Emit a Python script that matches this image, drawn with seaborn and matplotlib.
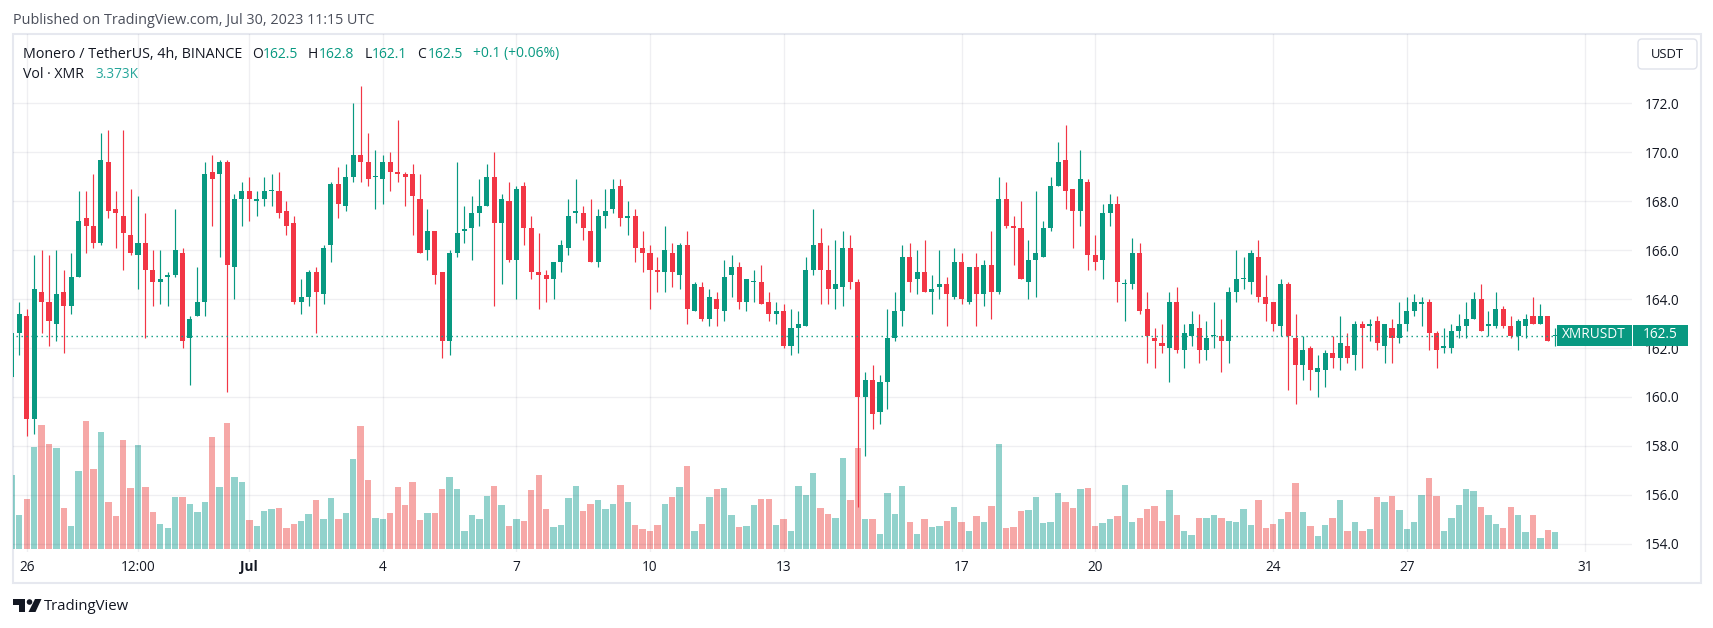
#!/usr/bin/env python3

import numpy as np
import pandas as pd
import seaborn as sns
import matplotlib.pyplot as plt
from matplotlib.patches import Rectangle, FancyBboxPatch, Polygon, Circle
from matplotlib.transforms import Affine2D

W, H = 1713, 628

# 4h candles, first one is clipped by the left edge
opens = [
    160.8, 162.6, 163.3, 159.1, 164.3, 163.9, 163.0, 164.3, 163.7, 164.9,
    167.3, 167.0, 166.3, 169.6, 167.7, 167.4, 166.6, 165.8, 166.3, 165.2,
    164.7, 164.9, 165.0, 165.9, 162.4, 163.3, 163.9, 169.2, 169.1, 169.6,
    165.3, 168.1, 168.4, 168.0, 168.1, 168.4, 168.4, 167.6, 167.1, 163.9,
    164.1, 165.1, 164.2, 166.2, 168.7, 167.8, 169.0, 169.9, 169.6, 169.0,
    168.9, 169.6, 169.2, 169.1, 169.1, 168.1, 166.0, 166.8, 165.1, 162.3,
    165.9, 166.8, 166.9, 167.5, 167.8, 169.0, 167.1, 168.0, 165.6, 168.6,
    166.9, 165.1, 165.0, 164.8, 165.5, 166.1, 167.5, 167.5, 166.8, 165.5,
    167.4, 167.7, 168.6, 167.3, 167.4, 166.1, 165.9, 165.2, 165.1, 165.9,
    165.0, 166.2, 163.5, 164.5, 163.2, 164.0, 163.5, 165.0, 165.3, 163.9,
    164.7, 164.7, 163.9, 163.4, 163.5, 162.1, 162.8, 162.9, 165.2, 166.3,
    165.2, 164.4, 164.5, 166.1, 164.7, 160.0, 160.7, 159.4, 160.6, 162.4,
    163.5, 165.7, 164.8, 165.1, 164.3, 164.5, 164.6, 164.1, 165.5, 163.9,
    165.3, 164.2, 165.4, 164.3, 168.1, 167.0, 166.9, 164.7, 165.6, 165.7,
    166.9, 168.6, 169.7, 168.5, 167.6, 168.8, 165.8, 165.6, 167.5, 167.9,
    164.6, 164.6, 165.9, 163.6, 162.4, 162.2, 162.0, 163.9, 161.9, 162.5,
    162.8, 161.9, 162.5, 162.5, 162.3, 164.3, 164.8, 164.7, 165.7, 164.1,
    163.9, 162.9, 164.6, 162.4, 161.3, 162.0, 161.0, 161.1, 161.8, 161.6,
    162.1, 161.7, 163.0, 162.9, 163.1, 162.1, 162.8, 162.4, 163.0, 163.5,
    163.8, 163.9, 162.6, 162.0, 162.0, 162.7, 162.9, 163.2, 164.0, 162.9,
    162.9, 163.6, 162.9, 162.5, 162.9, 163.3, 163.0, 163.3, 162.5,
]
closes = [
    162.6, 163.4, 159.1, 164.4, 163.9, 163.1, 164.2, 163.7, 164.9, 167.2,
    167.0, 166.3, 169.7, 167.6, 167.5, 166.7, 165.9, 166.3, 165.2, 164.7,
    164.8, 165.0, 166.0, 162.3, 163.2, 163.9, 169.1, 168.9, 169.6, 165.4,
    168.1, 168.4, 168.1, 168.1, 168.4, 168.4, 167.5, 167.0, 163.9, 164.1,
    165.1, 164.3, 166.1, 168.7, 167.9, 169.0, 169.9, 169.6, 168.9, 169.0,
    169.6, 169.2, 169.1, 169.0, 168.2, 165.9, 166.8, 165.0, 162.3, 165.9,
    166.7, 166.8, 167.5, 167.8, 169.0, 167.1, 168.1, 165.6, 168.5, 166.9,
    165.1, 165.0, 164.8, 165.5, 166.2, 167.4, 167.6, 166.9, 165.5, 167.4,
    167.6, 168.5, 167.3, 167.4, 166.1, 165.9, 165.2, 165.1, 166.0, 165.1,
    166.2, 163.6, 164.6, 163.2, 164.1, 163.6, 164.9, 165.3, 163.9, 164.8,
    164.7, 163.8, 163.4, 163.5, 162.1, 162.8, 163.0, 165.2, 166.2, 165.2,
    164.4, 164.6, 166.1, 164.7, 160.0, 160.7, 159.3, 160.6, 162.4, 163.5,
    165.7, 164.7, 165.1, 164.3, 164.4, 164.6, 164.2, 165.5, 164.0, 165.3,
    164.2, 165.4, 164.3, 168.1, 167.0, 166.9, 164.8, 165.6, 165.9, 166.9,
    168.6, 169.6, 168.4, 167.6, 168.9, 165.8, 165.5, 167.5, 167.9, 164.7,
    164.6, 165.9, 163.5, 162.5, 162.3, 162.1, 163.9, 161.9, 162.6, 163.0,
    161.9, 162.4, 162.5, 162.3, 164.3, 164.8, 164.8, 165.9, 164.1, 163.8,
    163.0, 164.6, 162.5, 161.3, 161.9, 161.1, 161.2, 161.8, 161.6, 162.2,
    161.6, 163.0, 162.8, 163.0, 162.2, 163.0, 162.4, 163.0, 163.5, 163.9,
    163.9, 162.6, 161.9, 162.1, 162.7, 162.9, 163.2, 164.0, 162.7, 163.0,
    163.6, 162.9, 162.5, 163.1, 163.2, 163.0, 163.3, 162.3, 162.5,
]
highs = [
    162.6, 163.9, 163.6, 165.8, 166.0, 165.8, 166.0, 165.2, 165.9, 168.4,
    168.4, 169.1, 170.8, 170.9, 168.4, 170.9, 168.5, 168.2, 167.5, 166.0,
    166.0, 165.1, 167.7, 166.1, 163.3, 165.3, 169.6, 169.9, 169.7, 169.7,
    168.3, 168.8, 169.0, 168.4, 169.0, 169.1, 169.2, 168.0, 167.4, 164.8,
    165.2, 165.3, 166.2, 168.8, 169.4, 169.5, 172.0, 172.7, 170.8, 170.1,
    169.9, 170.0, 171.3, 169.2, 169.5, 169.1, 167.7, 166.8, 165.1, 166.0,
    169.6, 167.8, 168.2, 168.9, 169.5, 170.0, 168.3, 168.8, 168.6, 168.8,
    167.4, 166.7, 165.2, 165.5, 166.4, 168.1, 168.9, 167.8, 168.1, 167.7,
    168.5, 168.9, 168.9, 168.0, 167.7, 166.8, 166.2, 165.7, 167.0, 166.3,
    166.3, 166.8, 164.7, 164.7, 164.4, 164.3, 165.6, 165.8, 165.5, 164.8,
    165.2, 165.4, 164.3, 163.9, 163.8, 163.6, 163.5, 165.7, 167.7, 166.9,
    166.2, 166.4, 166.8, 166.6, 164.8, 161.0, 161.3, 160.9, 163.6, 164.3,
    166.2, 166.3, 166.0, 166.4, 165.0, 166.0, 164.9, 166.1, 165.9, 165.3,
    165.9, 165.6, 166.8, 169.0, 168.8, 167.4, 168.0, 166.4, 168.4, 167.2,
    169.0, 170.4, 171.1, 168.5, 170.1, 168.9, 166.6, 167.9, 168.3, 168.2,
    164.8, 166.5, 166.3, 164.3, 162.8, 163.0, 164.3, 164.5, 163.0, 163.5,
    163.4, 163.1, 163.9, 163.2, 164.5, 166.0, 165.7, 166.0, 166.4, 165.0,
    163.9, 164.8, 164.7, 163.4, 162.5, 162.1, 161.7, 161.9, 162.5, 163.3,
    162.6, 163.1, 163.1, 163.2, 163.3, 163.0, 163.2, 163.9, 164.1, 164.2,
    164.1, 164.0, 162.7, 162.8, 163.0, 163.4, 163.9, 164.3, 164.6, 163.5,
    164.3, 163.7, 163.3, 163.2, 163.4, 164.1, 163.8, 163.3, 162.8,
]
lows = [
    160.8, 161.7, 158.4, 158.5, 162.6, 162.1, 162.3, 161.8, 163.4, 164.9,
    165.9, 166.1, 166.2, 167.3, 166.1, 165.2, 165.8, 164.4, 162.4, 163.7,
    163.8, 163.7, 164.9, 162.0, 160.5, 163.3, 163.3, 167.0, 165.7, 160.2,
    164.0, 167.0, 167.2, 167.4, 167.8, 167.8, 167.3, 166.6, 163.8, 163.4,
    163.7, 162.6, 163.8, 165.5, 167.3, 167.6, 168.8, 168.8, 168.6, 167.7,
    167.9, 168.4, 168.8, 167.8, 166.6, 165.9, 165.6, 164.6, 161.6, 161.7,
    165.7, 166.3, 165.6, 167.0, 167.8, 163.7, 164.6, 165.5, 164.0, 166.2,
    164.8, 163.6, 163.9, 164.0, 165.1, 165.8, 167.1, 166.4, 165.5, 165.3,
    166.9, 167.5, 167.0, 166.6, 165.5, 165.1, 163.6, 164.3, 164.3, 164.5,
    164.4, 163.0, 163.5, 163.1, 162.9, 162.9, 163.1, 164.1, 163.6, 163.5,
    163.9, 163.8, 163.1, 163.0, 162.0, 161.7, 161.8, 162.9, 165.0, 163.8,
    163.8, 163.6, 163.7, 164.4, 155.5, 157.6, 158.7, 158.9, 159.5, 162.3,
    162.9, 164.3, 164.2, 164.3, 163.4, 164.0, 162.9, 164.0, 163.8, 163.8,
    162.9, 163.7, 163.2, 164.2, 166.9, 165.4, 164.8, 164.0, 164.1, 165.7,
    166.8, 168.6, 167.7, 166.1, 167.0, 165.2, 165.2, 164.8, 167.0, 163.9,
    163.1, 164.4, 163.4, 161.4, 161.2, 161.8, 160.6, 161.8, 161.2, 162.1,
    161.4, 161.5, 162.0, 161.0, 161.4, 163.9, 164.4, 164.2, 163.9, 163.1,
    162.7, 162.5, 160.3, 159.7, 160.7, 160.3, 160.0, 160.4, 161.2, 161.1,
    161.4, 161.1, 161.2, 162.3, 161.9, 161.4, 161.4, 162.2, 162.7, 163.3,
    162.9, 161.9, 161.2, 161.8, 161.8, 162.4, 162.4, 163.2, 162.7, 162.5,
    162.8, 162.8, 162.4, 161.9, 162.4, 163.0, 163.0, 162.3, 162.1,
]
# volume in thousands of XMR
vols = [
    14.3, 6.5, 9.6, 19.7, 24.0, 20.3, 19.5, 7.9, 4.4, 15.1,
    24.9, 15.6, 22.6, 9.2, 6.3, 21.1, 11.8, 20.1, 12.0, 7.1,
    4.8, 4.0, 10.0, 10.0, 8.7, 7.1, 9.2, 21.8, 12.0, 24.4,
    13.9, 12.9, 5.6, 4.4, 7.3, 7.7, 7.9, 4.0, 4.8, 5.4,
    6.7, 9.4, 5.8, 9.8, 5.8, 6.9, 17.4, 23.8, 13.3, 6.1,
    5.9, 6.9, 12.0, 8.5, 12.9, 5.6, 6.9, 6.9, 11.6, 13.9,
    11.6, 3.4, 6.5, 5.8, 10.2, 12.3, 8.5, 4.4, 5.9, 5.4,
    11.4, 14.3, 7.7, 4.2, 4.6, 9.8, 12.2, 7.3, 8.7, 9.4,
    7.7, 8.7, 12.5, 9.1, 4.6, 3.8, 3.5, 4.6, 8.7, 10.0,
    12.0, 16.0, 3.4, 4.8, 10.0, 11.6, 11.8, 6.5, 4.2, 4.4,
    8.5, 9.6, 9.6, 4.6, 5.9, 3.4, 12.2, 10.4, 14.7, 7.9,
    6.7, 6.1, 17.6, 9.4, 19.5, 5.9, 5.9, 3.0, 10.8, 6.7,
    12.2, 5.2, 3.0, 5.9, 4.2, 4.4, 5.4, 8.1, 5.2, 3.5,
    6.3, 5.2, 8.3, 20.3, 4.0, 4.2, 7.3, 7.5, 10.0, 5.0,
    5.2, 10.8, 9.2, 7.9, 11.6, 11.8, 4.4, 5.0, 5.8, 6.3,
    12.5, 5.2, 6.1, 7.7, 8.3, 5.4, 11.4, 6.5, 3.4, 2.8,
    6.1, 6.1, 6.5, 6.1, 5.4, 5.2, 7.7, 4.6, 9.4, 4.0,
    4.8, 5.8, 7.1, 12.7, 7.1, 4.4, 2.6, 4.6, 6.1, 9.4,
    3.5, 5.2, 3.5, 3.8, 10.0, 9.2, 10.2, 7.5, 3.8, 5.2,
    10.4, 13.7, 10.2, 3.5, 6.1, 8.5, 11.6, 11.2, 8.1, 6.6,
    4.8, 4.0, 8.1, 6.6, 3.2, 6.6, 2.2, 3.6, 3.373,
]

time_ticks = [1, 16, 31, 49, 67, 85, 103, 127, 145, 169, 187, 211]
time_labels = ["26", "12:00", "Jul", "4", "7", "10", "13", "17", "20", "24", "27", "31"]
price_ticks = [154, 156, 158, 160, 162, 164, 166, 168, 170, 172]
last_price = 162.5

UP = "#089981"
DOWN = "#f23645"
TEXT = "#131722"
FRAME = "#e6e8ef"

sns.set_theme(style="white")
plt.rcParams["font.family"] = ["Open Sans", "DejaVu Sans"]

df = pd.DataFrame({"o": opens, "h": highs, "l": lows, "c": closes, "v": vols})
df["idx"] = np.arange(-1, len(df) - 1)
df["side"] = np.where(df.c >= df.o, "up", "down")

fig = plt.figure(figsize=(W / 100, H / 100), dpi=100, facecolor="white")
px = Affine2D().scale(1 / W, -1 / H).translate(0, 1) + fig.transFigure

left, right, top, bottom = 13, 1632, 34, 552
rect = [left / W, 1 - bottom / H, (right - left) / W, (bottom - top) / H]
xlim = ((left - 19.3) / 7.42, (right - 19.3) / 7.42)

# volume pane sits underneath
vax = fig.add_axes(rect, zorder=1)
sns.barplot(data=df, x="idx", y="v", hue="side", palette={"up": "#26a69a", "down": "#ef5350"},
            native_scale=True, dodge=False, width=0.86, saturation=1, alpha=0.5, errorbar=None,
            legend=False, linewidth=0, ax=vax)
vax.set_xlim(xlim)
vax.set_ylim(-(bottom - 549) / 5.16, (549 - top) / 5.16)
vax.axis("off")

ax = fig.add_axes(rect, zorder=2)
ax.patch.set_alpha(0)
ax.set_xlim(xlim)
ax.set_ylim(172 - (bottom - 103.3) / 24.47, 172 + (103.3 - top) / 24.47)
for s in ax.spines.values():
    s.set_visible(False)

ax.grid(True, color="#1a1a40", alpha=0.065, lw=1.0)
ax.set_axisbelow(True)
ax.set_xticks(time_ticks, time_labels)
ax.set_yticks(price_ticks, [f"{p:.1f}" for p in price_ticks])
ax.yaxis.tick_right()
ax.tick_params(axis="x", length=0, pad=6, labelsize=9.8, labelcolor=TEXT)
ax.tick_params(axis="y", length=0, pad=9, labelsize=9.8, labelcolor=TEXT)
ax.get_xticklabels()[2].set_fontweight("bold")

colors = [UP if s == "up" else DOWN for s in df.side]
ax.vlines(df.idx, df.l, df.h, colors=colors, lw=0.85, zorder=3)
ax.bar(df.idx, np.maximum((df.c - df.o).abs(), 0.045), bottom=df[["o", "c"]].min(axis=1),
       width=0.68, color=colors, linewidth=0, zorder=4)

ax.plot([df.idx.iloc[0] + 0.6, 207], [last_price, last_price], color=UP, lw=1, ls=(0, (1, 2.6)), zorder=5)

# frame around the whole chart
fig.add_artist(Rectangle((13, 34), 1688, 549, transform=px, fill=False, ec=FRAME, lw=1.5))


def put(x, y, s, color=TEXT, size=9.6, **kw):
    fig.text(x, y, s, transform=px, color=color, size=size, va="center", **kw)


put(13, 20, "Published on TradingView.com, Jul 30, 2023 11:15 UTC", color="#4a4e5a", size=10.4)
put(23, 54, "Monero / TetherUS, 4h, BINANCE", size=10.3)
for x, s, c in [(252, "O", TEXT), (263, "162.5", UP), (308, "H", TEXT), (319, "162.8", UP),
                (365, "L", TEXT), (372, "162.1", UP), (417, "C", TEXT), (428, "162.5", UP),
                (473, "+0.1 (+0.06%)", UP)]:
    put(x, 54, s, color=c, size=10)
put(23, 75, "Vol · XMR", size=10.2)
put(95, 75, "3.373K", color="#26a69a", size=9.8)

# currency button
fig.add_artist(FancyBboxPatch((1641, 42), 53, 24, transform=px, boxstyle="round,pad=3,rounding_size=4",
                              fc="white", ec="#dfe2ea", lw=1))
put(1667.5, 54, "USDT", size=9.4, ha="center")

# last price tags
fig.add_artist(Rectangle((1557, 325), 74.5, 20.5, transform=px, fc=UP, ec="none", zorder=6))
fig.add_artist(Rectangle((1632.5, 325), 55.5, 20.5, transform=px, fc=UP, ec="none", zorder=6))
fig.text(1594, 335, "XMRUSDT", transform=px, color="white", size=9.8, fontweight="medium", ha="center", va="center", zorder=7)
fig.text(1660, 335, "162.5", transform=px, color="white", size=9.8, fontweight="medium", ha="center", va="center", zorder=7)

# logo
for p in [[(13, 599), (25, 599), (25, 612), (19, 612), (19, 605), (13, 605)],
          [(35, 599), (41.5, 599), (35.5, 612), (28.5, 612)]]:
    fig.add_artist(Polygon(p, closed=True, transform=px, fc=TEXT, ec="none"))
fig.add_artist(Circle((29.5, 602), 2.8, transform=px, fc=TEXT, ec="none"))
put(44, 606, "TradingView", size=10.7, fontweight="medium")

fig.savefig("out.png", dpi=100)
